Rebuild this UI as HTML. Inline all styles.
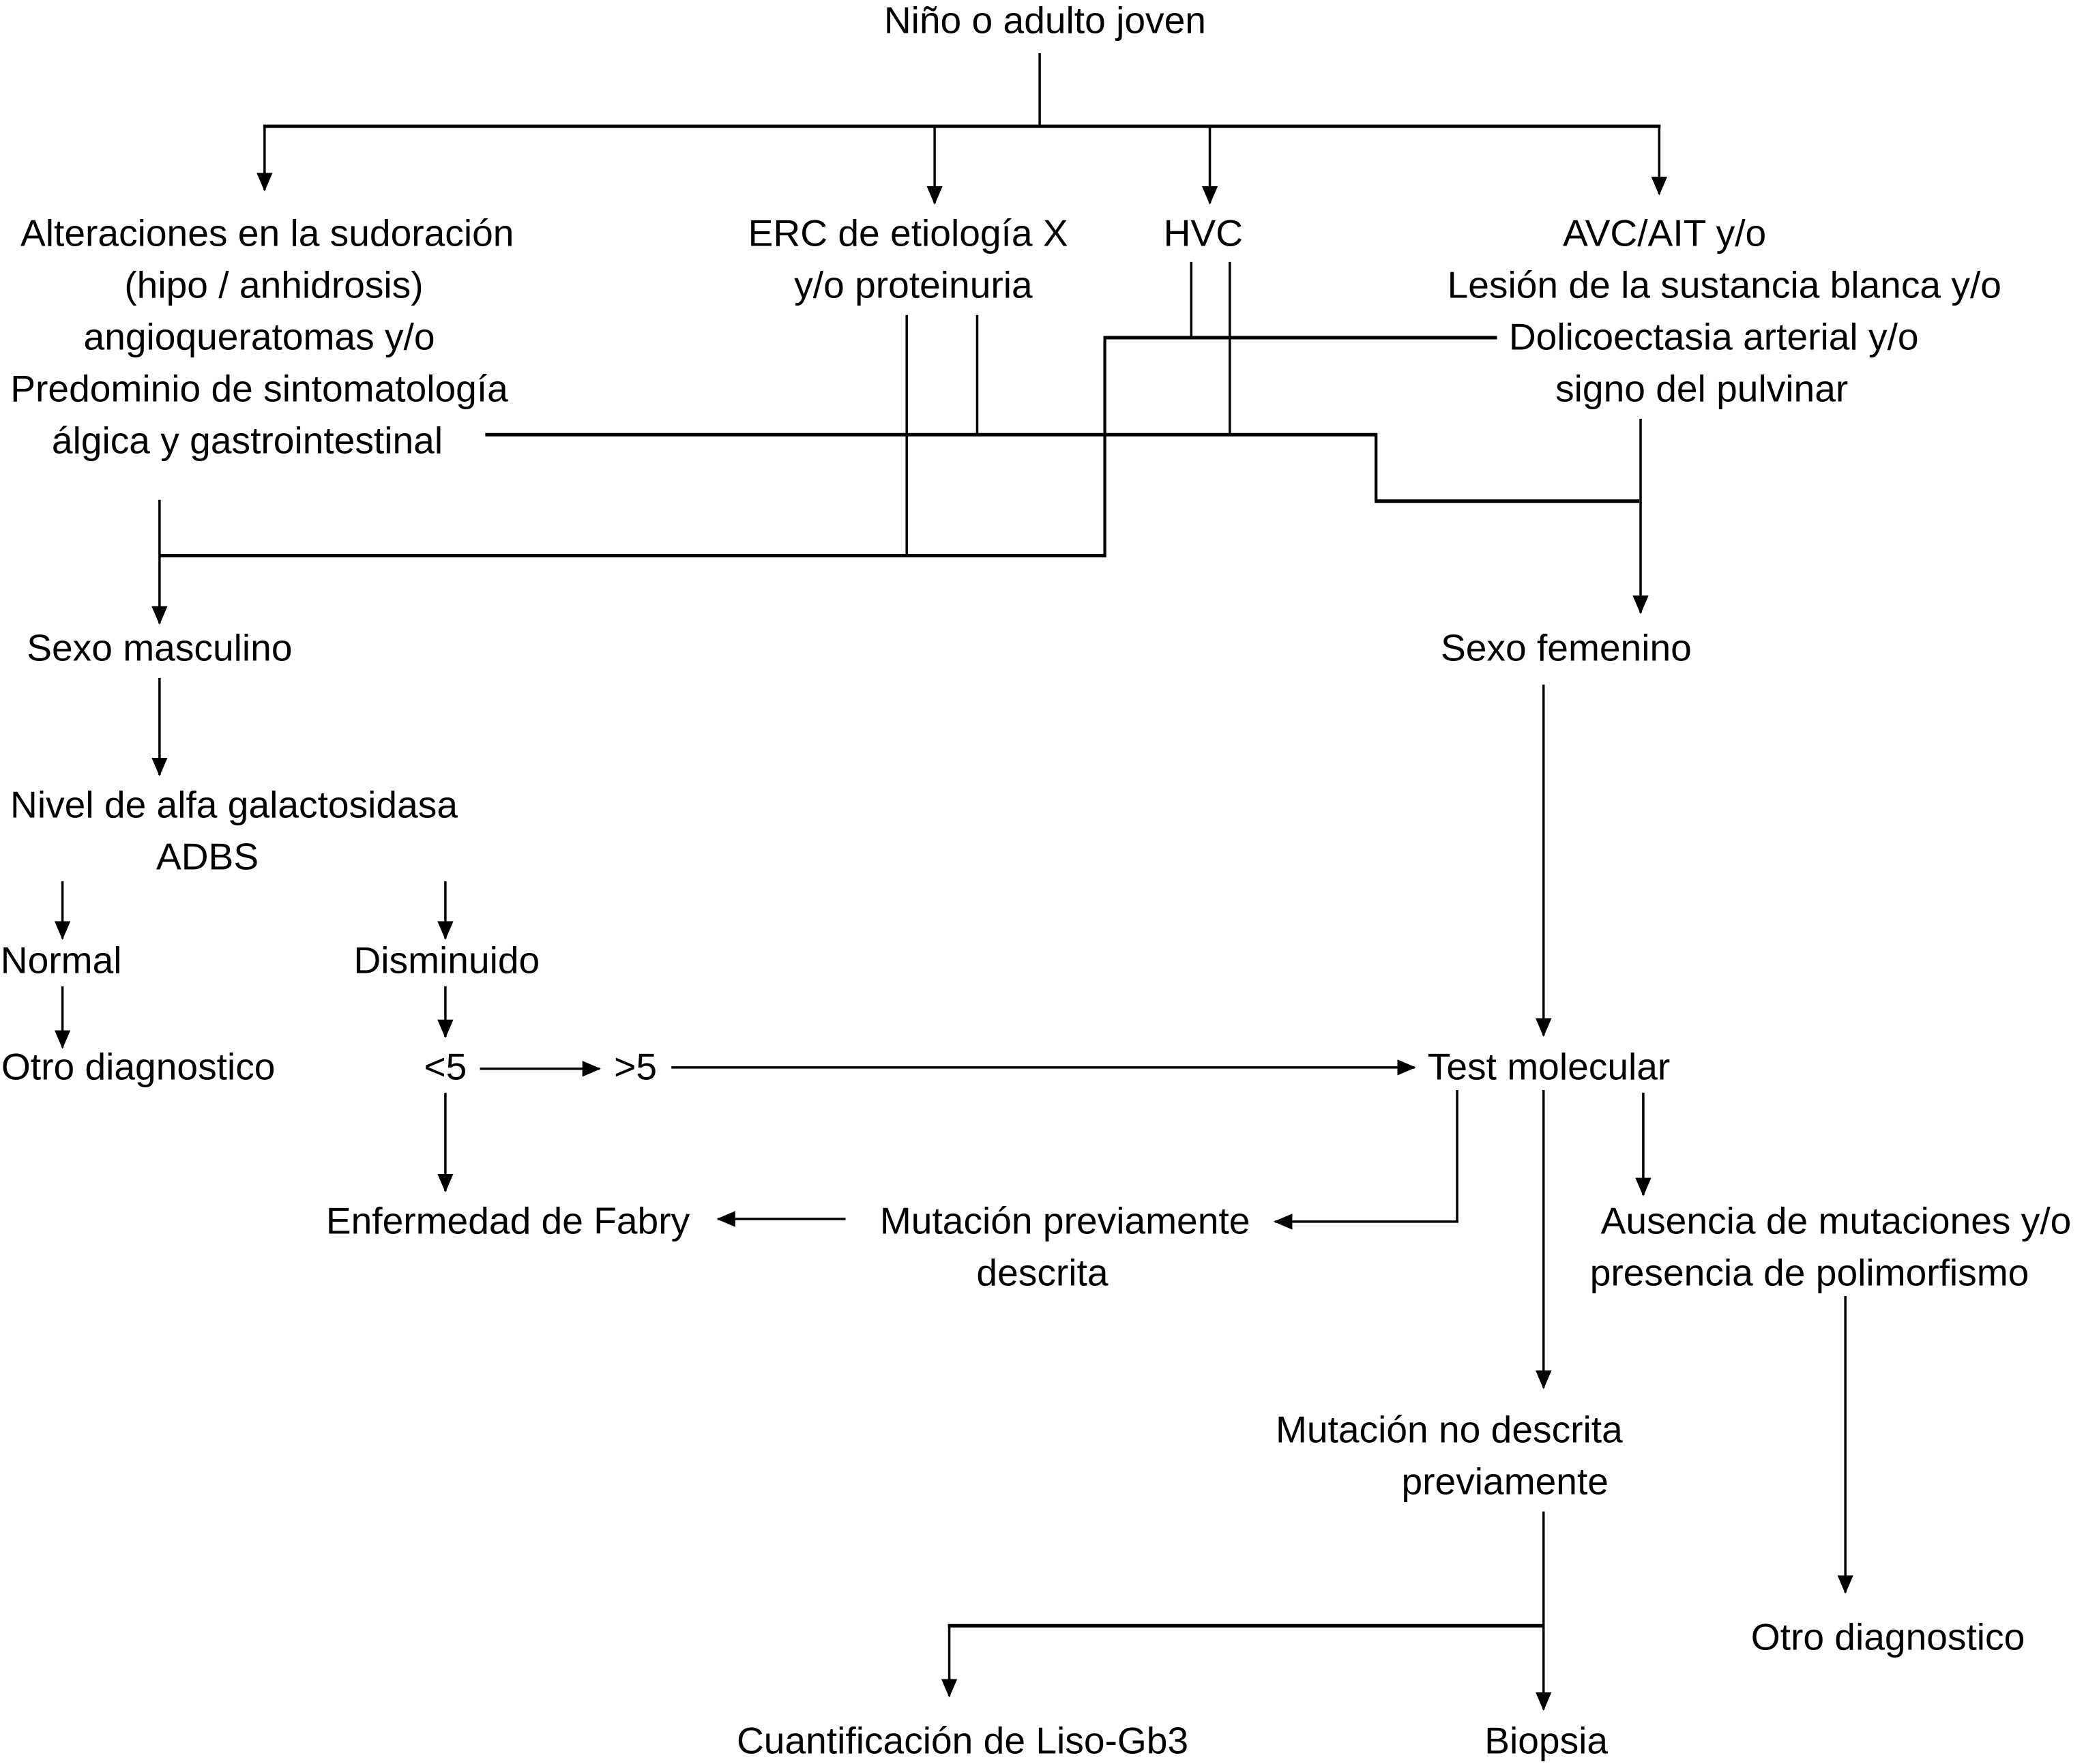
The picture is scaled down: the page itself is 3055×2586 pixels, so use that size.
<!DOCTYPE html>
<html><head><meta charset="utf-8">
<style>
html,body{margin:0;padding:0;background:#fff;}
svg{display:block;}
text{font-family:"Liberation Sans",Arial,sans-serif;font-size:28.3px;fill:#000;text-anchor:middle;}
</style></head>
<body>
<svg width="3055" height="2586" viewBox="0 0 1567.5 1327" preserveAspectRatio="none" xmlns="http://www.w3.org/2000/svg">
<defs>
<marker id="a" markerWidth="14" markerHeight="12" refX="13" refY="6" orient="auto" markerUnits="userSpaceOnUse">
<path d="M0,0 L14,6 L0,12 z" fill="#000"/>
</marker>
</defs>
<g stroke="#000" fill="none" stroke-width="1.8">
<line x1="782" y1="40" x2="782" y2="95"/>
<line x1="198" y1="95" x2="1249" y2="95" stroke-width="2.6"/>
<line x1="199" y1="95" x2="199" y2="143" marker-end="url(#a)"/>
<line x1="703" y1="95" x2="703" y2="153" marker-end="url(#a)"/>
<line x1="910" y1="95" x2="910" y2="153" marker-end="url(#a)"/>
<line x1="1248" y1="95" x2="1248" y2="146" marker-end="url(#a)"/>
<line x1="682" y1="237" x2="682" y2="418"/>
<line x1="735" y1="237" x2="735" y2="327"/>
<line x1="896" y1="197" x2="896" y2="254"/>
<line x1="925" y1="197" x2="925" y2="327"/>
<line x1="830" y1="254" x2="1126" y2="254" stroke-width="2.6"/>
<line x1="831" y1="253" x2="831" y2="419" stroke-width="2.2"/>
<line x1="120" y1="418" x2="832" y2="418" stroke-width="2.6"/>
<line x1="120" y1="376" x2="120" y2="469" marker-end="url(#a)"/>
<line x1="365" y1="327" x2="1036" y2="327" stroke-width="2.6"/>
<line x1="1035" y1="326" x2="1035" y2="377" stroke-width="2.2"/>
<line x1="1034" y1="377" x2="1233" y2="377" stroke-width="2.6"/>
<line x1="1234" y1="315" x2="1234" y2="461" marker-end="url(#a)"/>
<line x1="120" y1="510" x2="120" y2="583" marker-end="url(#a)"/>
<line x1="47" y1="663" x2="47" y2="706" marker-end="url(#a)"/>
<line x1="335" y1="663" x2="335" y2="706" marker-end="url(#a)"/>
<line x1="47" y1="742" x2="47" y2="788" marker-end="url(#a)"/>
<line x1="335" y1="742" x2="335" y2="780" marker-end="url(#a)"/>
<line x1="361" y1="804" x2="451" y2="804" marker-end="url(#a)"/>
<line x1="505" y1="803" x2="1064" y2="803" marker-end="url(#a)"/>
<line x1="335" y1="822" x2="335" y2="896" marker-end="url(#a)"/>
<line x1="636" y1="917" x2="540" y2="917" marker-end="url(#a)"/>
<line x1="1161" y1="515" x2="1161" y2="779" marker-end="url(#a)"/>
<line x1="1096" y1="820" x2="1096" y2="919"/>
<line x1="1097" y1="919" x2="959" y2="919" marker-end="url(#a)"/>
<line x1="1236" y1="822" x2="1236" y2="899" marker-end="url(#a)"/>
<line x1="1161" y1="820" x2="1161" y2="1044" marker-end="url(#a)"/>
<line x1="1161" y1="1137" x2="1161" y2="1286" marker-end="url(#a)"/>
<line x1="713" y1="1223" x2="1161" y2="1223" stroke-width="2.6"/>
<line x1="714" y1="1222" x2="714" y2="1276" marker-end="url(#a)"/>
<line x1="1388" y1="975" x2="1388" y2="1198" marker-end="url(#a)"/>
</g>
<g>
<text x="786" y="25">Niño o adulto joven</text>
<text x="201" y="185">Alteraciones en la sudoración</text>
<text x="206" y="224">(hipo / anhidrosis)</text>
<text x="195" y="263">angioqueratomas y/o</text>
<text x="195" y="302">Predominio de sintomatología</text>
<text x="186" y="341">álgica y gastrointestinal</text>
<text x="683" y="185">ERC de etiología X</text>
<text x="687" y="224">y/o proteinuria</text>
<text x="905" y="185">HVC</text>
<text x="1252" y="185">AVC/AIT y/o</text>
<text x="1297" y="224">Lesión de la sustancia blanca y/o</text>
<text x="1289" y="263">Dolicoectasia arterial y/o</text>
<text x="1280" y="302">signo del pulvinar</text>
<text x="120" y="497">Sexo masculino</text>
<text x="1178" y="497">Sexo femenino</text>
<text x="176" y="615">Nivel de alfa galactosidasa</text>
<text x="156" y="654">ADBS</text>
<text x="46" y="732">Normal</text>
<text x="336" y="732">Disminuido</text>
<text x="104" y="812">Otro diagnostico</text>
<text x="335" y="812">&lt;5</text>
<text x="478" y="812">&gt;5</text>
<text x="1165" y="812">Test molecular</text>
<text x="382" y="928">Enfermedad de Fabry</text>
<text x="801" y="928">Mutación previamente</text>
<text x="784" y="967">descrita</text>
<text x="1381" y="928">Ausencia de mutaciones y/o</text>
<text x="1361" y="967">presencia de polimorfismo</text>
<text x="1090" y="1085">Mutación no descrita</text>
<text x="1132" y="1124">previamente</text>
<text x="1420" y="1241">Otro diagnostico</text>
<text x="724" y="1319">Cuantificación de Liso-Gb3</text>
<text x="1163" y="1319">Biopsia</text>
</g>
</svg>
</body></html>
